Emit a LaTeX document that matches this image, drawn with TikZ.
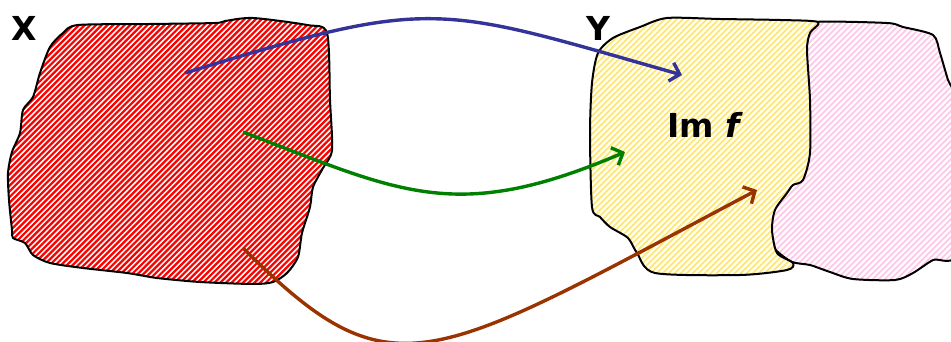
\documentclass[tikz,border=0pt]{standalone}
\usepackage{fontspec}
\setsansfont{DejaVu Sans}
\usetikzlibrary{arrows.meta}
\tikzset{
  x=1pt,y=-1pt,
  outline/.style   ={draw=black,line width=2pt,line join=round},
  hatchred/.style  ={red,line width=2.2pt},
  hatchyel/.style  ={yellow!70!orange!55,line width=1.5pt},
  hatchpink/.style ={magenta!22,line width=1.5pt},
  setlabel/.style  ={font=\sffamily\bfseries\fontsize{33}{33}\selectfont,inner sep=0pt},
  maparrow/.style  ={line width=3.4pt,-{Straight Barb[length=9pt,width=19pt,line width=3.4pt]}},
}
\definecolor{mapblue}{RGB}{51,51,153}
\definecolor{mapgreen}{RGB}{0,128,0}
\definecolor{mapbrown}{RGB}{153,51,0}
\newcommand\pathX{plot[smooth cycle,tension=0.45] coordinates {
  (78,25) (150,24) (215,23) (225,21) (253,18) (307,25) (327,33) (330,100)
  (332,150) (323,168) (313,187) (310,207) (302,233) (298,257) (287,273)
  (273,282) (253,284) (200,282) (157,278) (127,273) (83,268) (50,263)
  (33,255) (25,243) (13,238) (12,230) (9,200) (8,173) (12,152) (20,133)
  (23,110) (33,97) (40,73) (50,47) (63,33)}}
\newcommand\pathIm{plot[smooth cycle,tension=0.45] coordinates {
  (667,18) (720,19) (780,20) (818,22) (810,33) (807,50) (810,100) (810,153)
  (803,180) (793,185) (787,193) (775,210) (772,230) (777,253) (793,263)
  (787,270) (740,275) (655,273) (637,253) (628,238) (610,227) (600,217)
  (592,207) (590,133) (592,83) (598,53) (613,38) (640,27)}}
\newcommand\pathRest{plot[smooth cycle,tension=0.45] coordinates {
  (815,22) (887,23) (903,27) (933,35) (940,53) (948,80) (958,110) (958,250)
  (933,260) (913,273) (895,280) (853,279) (830,272) (810,265) (790,261)
  (768,240) (768,200) (795,150) (798,80) (800,32)}}
\begin{document}
\begin{tikzpicture}
  \useasboundingbox (0,0) rectangle (951,342);
  \clip (0,0) rectangle (951,342);
  % the three sets, hatched
  \fill[white] \pathRest;
  \begin{scope}
    \clip \pathRest;
    \foreach \i in {400,406,...,960} \draw[hatchpink] (\i,350) -- ++(350,-350);
  \end{scope}
  \draw[outline] \pathRest;
  \fill[white] \pathIm;
  \begin{scope}
    \clip \pathIm;
    \foreach \i in {220,226,...,830} \draw[hatchyel] (\i,350) -- ++(350,-350);
  \end{scope}
  \draw[outline] \pathIm;
  \begin{scope}
    \clip \pathX;
    \foreach \i in {-360,-354.3,...,340} \draw[hatchred] (\i,350) -- ++(350,-350);
  \end{scope}
  \draw[outline] \pathX;
  % labels
  \node[setlabel] (lblX) at (24,28) {X};
  \node[setlabel] (lblY) at (598,28) {Y};
  \node[setlabel] (imf) at (705,125) {Im \textit{f}};
  % arrows
  \coordinate (x1) at (185,73);  \coordinate (y1) at (682,75);
  \coordinate (x2) at (243,132); \coordinate (y2) at (625,152);
  \coordinate (x3) at (243,248); \coordinate (y3) at (757,190);
  \draw[maparrow,mapblue]  (x1) .. controls (435,-4) and (436,5) .. (y1);
  \draw[maparrow,mapgreen] (x2) .. controls (400,192) and (455,225) .. (y2);
  \draw[maparrow,mapbrown] (x3) .. controls (393,398) and (427,365) .. (y3);
\end{tikzpicture}
\end{document}
